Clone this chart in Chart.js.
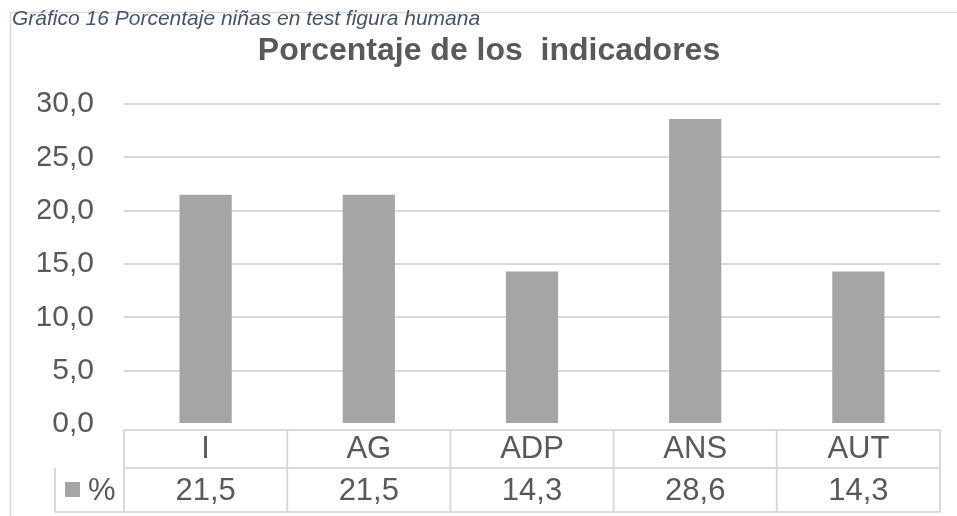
<!DOCTYPE html>
<html>
<head>
<meta charset="utf-8">
<title>Porcentaje de los indicadores</title>
<script src="https://cdn.jsdelivr.net/npm/chart.js@4"></script>
<style>
    body { margin: 0; background: #fff; }
    #wrap { position: relative; width: 957px; height: 516px; overflow: hidden; }
    #indicadoresChart { position: absolute; left: 0; top: 0; }
    #caption {
        position: absolute; left: 12px; top: 6px; z-index: 2;
        font: italic 21px 'Liberation Sans', Arial, sans-serif;
        color: #44546A; white-space: nowrap;
    }
</style>
</head>
<body>
<div id="wrap">
    <canvas id="indicadoresChart" width="957" height="516"></canvas>
    <div id="caption">Gráfico 16 Porcentaje niñas en test figura humana</div>
</div>
<script>
// Chart data
const categories = ['I', 'AG', 'ADP', 'ANS', 'AUT'];
const percentValues = [21.5, 21.5, 14.3, 28.6, 14.3];
const seriesName = '%';
const chartTitle = 'Porcentaje de los  indicadores';
const yMin = 0;
const yMax = 30;
const yStep = 5;

const FONT = "'Liberation Sans', Arial, sans-serif";
const TEXT_COLOR = '#595959';
const LINE_COLOR = '#D9D9D9';
const BAR_COLOR = '#A5A5A5';

// 21.5 -> "21,5"
function formatComma(v) {
    return Number(v).toFixed(1).replace('.', ',');
}

// Outer frame + data table under the plot (Excel style)
const frameAndTable = {
    id: 'frameAndTable',
    beforeDraw(chart) {
        const ctx = chart.ctx;
        ctx.save();
        ctx.strokeStyle = LINE_COLOR;
        ctx.lineWidth = 1.5;
        ctx.beginPath();
        ctx.moveTo(10.5, chart.height);
        ctx.lineTo(10.5, 12.5);
        ctx.lineTo(chart.width, 12.5);
        ctx.stroke();
        ctx.restore();
    },
    afterDraw(chart) {
        const ctx = chart.ctx;
        const area = chart.chartArea;
        const xScale = chart.scales.x;
        const half = (area.right - area.left) / categories.length / 2;
        const rowTop = area.bottom + 6;
        const rowMid = area.bottom + 44;
        const rowBottom = area.bottom + 88;
        const legendLeft = 55;

        ctx.save();
        ctx.strokeStyle = LINE_COLOR;
        ctx.lineWidth = 2;
        ctx.beginPath();
        // horizontal rules
        ctx.moveTo(area.left, rowTop); ctx.lineTo(area.right, rowTop);
        ctx.moveTo(area.left, rowMid); ctx.lineTo(area.right, rowMid);
        ctx.moveTo(legendLeft, rowBottom); ctx.lineTo(area.right, rowBottom);
        // legend cell left side
        ctx.moveTo(legendLeft, rowMid); ctx.lineTo(legendLeft, rowBottom);
        // column separators
        categories.forEach((c, i) => {
            const left = xScale.getPixelForValue(i) - half;
            ctx.moveTo(left, rowTop); ctx.lineTo(left, rowBottom);
        });
        ctx.moveTo(area.right, rowTop); ctx.lineTo(area.right, rowBottom);
        ctx.stroke();

        // cell texts
        ctx.fillStyle = TEXT_COLOR;
        ctx.font = '31px ' + FONT;
        ctx.textAlign = 'center';
        ctx.textBaseline = 'middle';
        categories.forEach((c, i) => {
            const cx = xScale.getPixelForValue(i);
            ctx.fillText(c, cx, (rowTop + rowMid) / 2);
            ctx.fillText(formatComma(percentValues[i]), cx, (rowMid + rowBottom) / 2 + 1);
        });

        // legend key
        ctx.fillStyle = BAR_COLOR;
        ctx.fillRect(65, 482, 15, 15);
        ctx.fillStyle = TEXT_COLOR;
        ctx.textAlign = 'left';
        ctx.fillText(seriesName, 88, (rowMid + rowBottom) / 2 + 1);
        ctx.restore();
    }
};

function initIndicadoresChart() {
    const ctx = document.getElementById('indicadoresChart').getContext('2d');
    return new Chart(ctx, {
        type: 'bar',
        data: {
            labels: categories,
            datasets: [{
                label: seriesName,
                data: percentValues,
                backgroundColor: BAR_COLOR,
                borderWidth: 0,
                categoryPercentage: 1,
                barPercentage: 0.32
            }]
        },
        options: {
            responsive: false,
            animation: false,
            devicePixelRatio: 1,
            layout: {
                padding: { left: 38, right: 17, top: 0, bottom: 92 }
            },
            scales: {
                x: {
                    display: false
                },
                y: {
                    min: yMin,
                    max: yMax,
                    afterFit(scale) { scale.width = 86; },
                    ticks: {
                        stepSize: yStep,
                        padding: 30,
                        color: TEXT_COLOR,
                        font: { family: FONT, size: 30 },
                        callback: (v) => formatComma(v)
                    },
                    grid: {
                        drawTicks: false,
                        lineWidth: 2,
                        color: (c) => (c.tick && c.tick.value === 0) ? 'rgba(0,0,0,0)' : LINE_COLOR
                    },
                    border: { display: false }
                }
            },
            plugins: {
                legend: { display: false },
                tooltip: { enabled: false },
                title: {
                    display: true,
                    text: chartTitle,
                    color: TEXT_COLOR,
                    font: { family: FONT, size: 32, weight: 'bold' },
                    padding: { top: 32, bottom: 33.6 }
                }
            }
        },
        plugins: [frameAndTable]
    });
}

initIndicadoresChart();
</script>
</body>
</html>
